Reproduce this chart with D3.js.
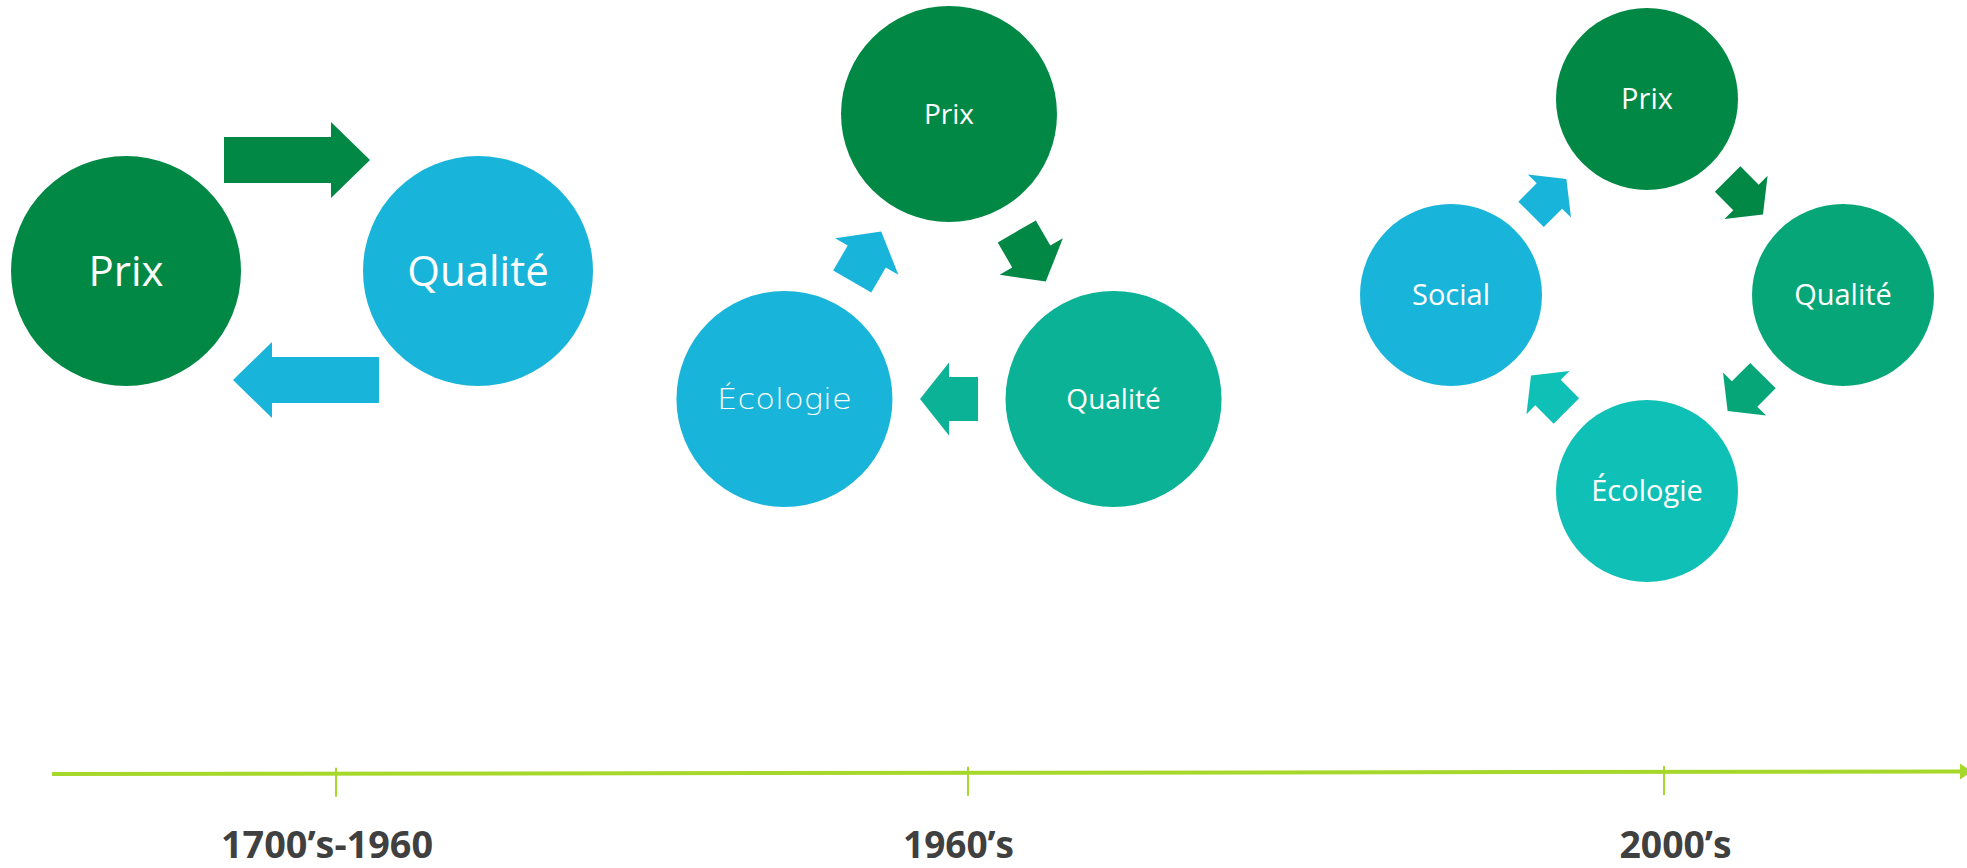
<!DOCTYPE html>
<html>
<head>
<meta charset="utf-8">
<script src="https://cdn.jsdelivr.net/npm/d3@7"></script>
<style>
  html, body { margin: 0; padding: 0; background: #ffffff; }
  svg { display: block; }
</style>
</head>
<body>
<svg id="chart" width="1967" height="868"></svg>
<script>
// ---------- data ----------
const periods = ["1700’s-1960", "1960’s", "2000’s"];
const stage1 = ["Prix", "Qualité"];
const stage2 = ["Prix", "Qualité", "Écologie"];
const stage3 = ["Prix", "Qualité", "Écologie", "Social"];

// ---------- styles ----------
const colors1 = ["#008844", "#19b4d9"];
const colors2 = ["#008844", "#0cb296", "#19b4d9"];
const colors3 = ["#008844", "#07a678", "#0ec0b6", "#19b4d9"];
const lineColor = "#a6d72b";
const labelColor = "#404040";

const svg = d3.select("#chart");

// arrow shape in local coords, pointing along +x, centred at origin
function arrowPath(L, sw, hw, hl) {
  const pts = [
    [-L / 2, -sw / 2], [L / 2 - hl, -sw / 2], [L / 2 - hl, -hw / 2],
    [L / 2, 0], [L / 2 - hl, hw / 2], [L / 2 - hl, sw / 2], [-L / 2, sw / 2]
  ];
  return d3.line()(pts) + "Z";
}

function label(g, text, x, y, size, opts = {}) {
  const capH = (opts.capRatio || 0.714) * size;
  const t = g.append("text")
    .attr("x", x)
    .attr("y", y + capH / 2)
    .attr("text-anchor", "middle")
    .attr("fill", "#ffffff")
    .style("font-family", opts.family || "'Open Sans', sans-serif")
    .style("font-weight", opts.weight || 400)
    .style("font-size", size + "px")
    .text(text);
  if (opts.textLength) {
    t.attr("textLength", opts.textLength).attr("lengthAdjust", "spacingAndGlyphs");
  }
  return t;
}

// ---------- panel 1 : two circles, two straight arrows ----------
{
  const cx = 302, cy = 271, R = 176, r = 115;
  const ang = d3.scaleOrdinal().domain(stage1).range([180, 0]);
  const g = svg.append("g");
  stage1.forEach((name, i) => {
    const a = ang(name) * Math.PI / 180;
    const x = cx + R * Math.cos(a), y = cy + R * Math.sin(a);
    g.append("circle").attr("cx", x).attr("cy", y).attr("r", r).attr("fill", colors1[i]);
    label(g, name, x, y, 42);
  });
  // arrows: Prix -> Qualité (top, pointing right), Qualité -> Prix (bottom, pointing left)
  const arrows = [
    { x: 297, y: 160, rot: 0, color: colors1[0] },
    { x: 306, y: 380, rot: 180, color: colors1[1] }
  ];
  arrows.forEach(a => {
    g.append("path")
      .attr("d", arrowPath(146, 46, 76, 39))
      .attr("transform", `translate(${a.x},${a.y}) rotate(${a.rot})`)
      .attr("fill", a.color);
  });
}

// ---------- cycle panels ----------
function cycle(names, colors, p) {
  const g = svg.append("g");
  const n = names.length;
  const angle = d3.scaleLinear().domain([0, n]).range([-90, 270]);
  // arrows first
  names.forEach((name, i) => {
    const aDeg = angle(i + 0.5);
    const a = aDeg * Math.PI / 180;
    const x = p.cx + p.ar * Math.cos(a), y = p.cy + p.ar * Math.sin(a);
    g.append("path")
      .attr("d", arrowPath(p.L, p.sw, p.hw, p.hl))
      .attr("transform", `translate(${x},${y}) rotate(${aDeg + 90})`)
      .attr("fill", colors[i]);
  });
  names.forEach((name, i) => {
    const a = angle(i) * Math.PI / 180;
    const x = p.cx + p.R * Math.cos(a), y = p.cy + p.R * Math.sin(a);
    g.append("circle").attr("cx", x).attr("cy", y).attr("r", p.r).attr("fill", colors[i]);
    const o = (p.special && p.special[name]) || {};
    label(g, name, x, y, o.size || p.fs, o);
  });
}

cycle(stage2, colors2, {
  cx: 949, cy: 304, R: 190, r: 108, ar: 95,
  L: 58, sw: 44, hw: 73, hl: 29, fs: 28,
  special: {
    "Écologie": { size: 28, family: "'DejaVu Sans', sans-serif", weight: 200,
                  capRatio: 0.729, textLength: 135 }
  }
});

cycle(stage3, colors3, {
  cx: 1647, cy: 295, R: 196, r: 91, ar: 139,
  L: 50, sw: 36, hw: 61, hl: 24, fs: 29
});

// ---------- timeline ----------
{
  const g = svg.append("g");
  const x0 = 52, x1 = 1966, y0 = 774, y1 = 771.5;
  const yAt = d3.scaleLinear().domain([x0, x1]).range([y0, y1]);
  g.append("line")
    .attr("x1", x0).attr("y1", y0).attr("x2", x1 - 6).attr("y2", yAt(x1 - 6))
    .attr("stroke", lineColor).attr("stroke-width", 4);
  g.append("path")
    .attr("d", d3.line()([[x1 - 6, yAt(x1) - 8], [x1 + 6, yAt(x1)], [x1 - 6, yAt(x1) + 8]]) + "Z")
    .attr("fill", lineColor);

  const tickX = d3.scaleOrdinal().domain(periods).range([336, 968, 1664]);
  const labelX = d3.scaleOrdinal().domain(periods).range([327, 958.5, 1675.5]);
  const labelW = d3.scaleOrdinal().domain(periods).range([212, 111, 112]);

  g.selectAll("line.tick").data(periods).join("line")
    .attr("class", "tick")
    .attr("x1", d => tickX(d)).attr("x2", d => tickX(d))
    .attr("y1", d => yAt(tickX(d)) - 6).attr("y2", d => yAt(tickX(d)) + 23)
    .attr("stroke", lineColor).attr("stroke-width", 2);

  g.selectAll("text.period").data(periods).join("text")
    .attr("class", "period")
    .attr("x", d => labelX(d))
    .attr("y", 858)
    .attr("text-anchor", "middle")
    .attr("fill", labelColor)
    .attr("textLength", d => labelW(d))
    .attr("lengthAdjust", "spacingAndGlyphs")
    .style("font-family", "'Open Sans', sans-serif")
    .style("font-weight", 700)
    .style("font-size", "37px")
    .text(d => d);
}
</script>
</body>
</html>
